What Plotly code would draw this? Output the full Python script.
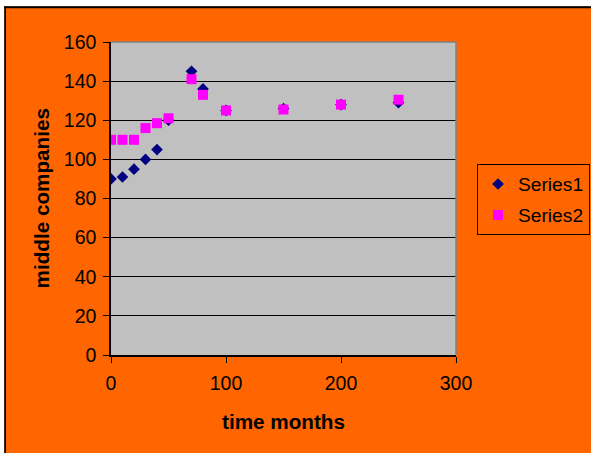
import plotly.graph_objects as go

# Sampled time points (months) and the two measured series
months = [0, 10, 20, 30, 40, 50, 70, 80, 100, 150, 200, 250]
series1 = [90, 91, 95, 100, 105, 120, 145, 136, 125, 126, 128, 129]
series2 = [110, 110, 110, 116, 118.5, 121, 141, 133, 125, 125.5, 128, 130.5]

x_ticks = [0, 100, 200, 300]
y_ticks = [0, 20, 40, 60, 80, 100, 120, 140, 160]

W, H = 591, 453
M_L, M_R, M_T, M_B = 111, 135, 42, 98
PW, PH = W - M_L - M_R, H - M_T - M_B

ORANGE = "#FF6600"
FONT = "Liberation Sans, Arial, sans-serif"


def px(x):
    """Pixel column -> paper x."""
    return (x - M_L) / PW


def py(y):
    """Pixel row -> paper y."""
    return (H - M_B - y) / PH


fig = go.Figure()
fig.add_trace(go.Scatter(
    x=months, y=series1, mode="markers", name="Series1", legendgroup="s1",
    marker=dict(symbol="diamond", size=9, color="#000080", line=dict(width=0)),
))
fig.add_trace(go.Scatter(
    x=months, y=series2, mode="markers", name="Series2", legendgroup="s2",
    marker=dict(symbol="square", size=10, color="#FF00FF", line=dict(width=0)),
))

axis_common = dict(
    showline=True, linecolor="black", linewidth=1.5,
    ticks="outside", ticklen=6, tickwidth=1, tickcolor="black",
    tickfont=dict(family=FONT, size=19.5, color="black"),
    zeroline=False, fixedrange=True, automargin=False,
)
fig.update_xaxes(range=[0, 300], tickvals=x_ticks, showgrid=False,
                 ticklabelstandoff=4, **axis_common)
fig.update_yaxes(range=[0, 160], tickvals=y_ticks, showgrid=True,
                 gridcolor="black", gridwidth=1, ticklabelstandoff=3,
                 **axis_common)

shapes = [
    # plot-area border on the top and right
    dict(type="line", xref="paper", yref="paper", x0=0, x1=1, y0=1, y1=1,
         line=dict(color="#808080", width=1.5)),
    dict(type="line", xref="paper", yref="paper", x0=1, x1=1, y0=0, y1=1,
         line=dict(color="#808080", width=1.5)),
    # white margin and black frame around the chart
    dict(type="rect", xref="paper", yref="paper", x0=px(-5), x1=px(600),
         y0=py(6.3), y1=py(-5), fillcolor="white", line=dict(width=0)),
    dict(type="rect", xref="paper", yref="paper", x0=px(-5), x1=px(4.3),
         y0=py(460), y1=py(-5), fillcolor="white", line=dict(width=0)),
    dict(type="line", xref="paper", yref="paper", x0=px(4.3), x1=px(600),
         y0=py(7.3), y1=py(7.3), line=dict(color="black", width=2)),
    dict(type="line", xref="paper", yref="paper", x0=px(5.1), x1=px(5.1),
         y0=py(6.3), y1=py(460), line=dict(color="black", width=1.7)),
]

annotations = [
    dict(text="<b>time months</b>", xref="paper", yref="paper",
         x=0.5, y=py(421), xanchor="center", yanchor="middle", showarrow=False,
         font=dict(family=FONT, size=20.7, color="black")),
    dict(text="<b>middle companies</b>", xref="paper", yref="paper",
         x=px(41), y=0.5, xanchor="center", yanchor="middle", showarrow=False,
         textangle=-90, font=dict(family=FONT, size=20.7, color="black")),
]

fig.update_layout(
    width=W, height=H,
    margin=dict(l=M_L, r=M_R, t=M_T, b=M_B, pad=0, autoexpand=False),
    paper_bgcolor=ORANGE, plot_bgcolor="#C0C0C0",
    showlegend=True,
    legend=dict(
        x=px(477), y=py(164), xanchor="left", yanchor="top",
        bgcolor=ORANGE, bordercolor="black", borderwidth=1,
        font=dict(family=FONT, size=19.2, color="black"),
        tracegroupgap=3,
    ),
    shapes=shapes,
    annotations=annotations,
)

fig.write_html("out.html", config=dict(displayModeBar=False))
